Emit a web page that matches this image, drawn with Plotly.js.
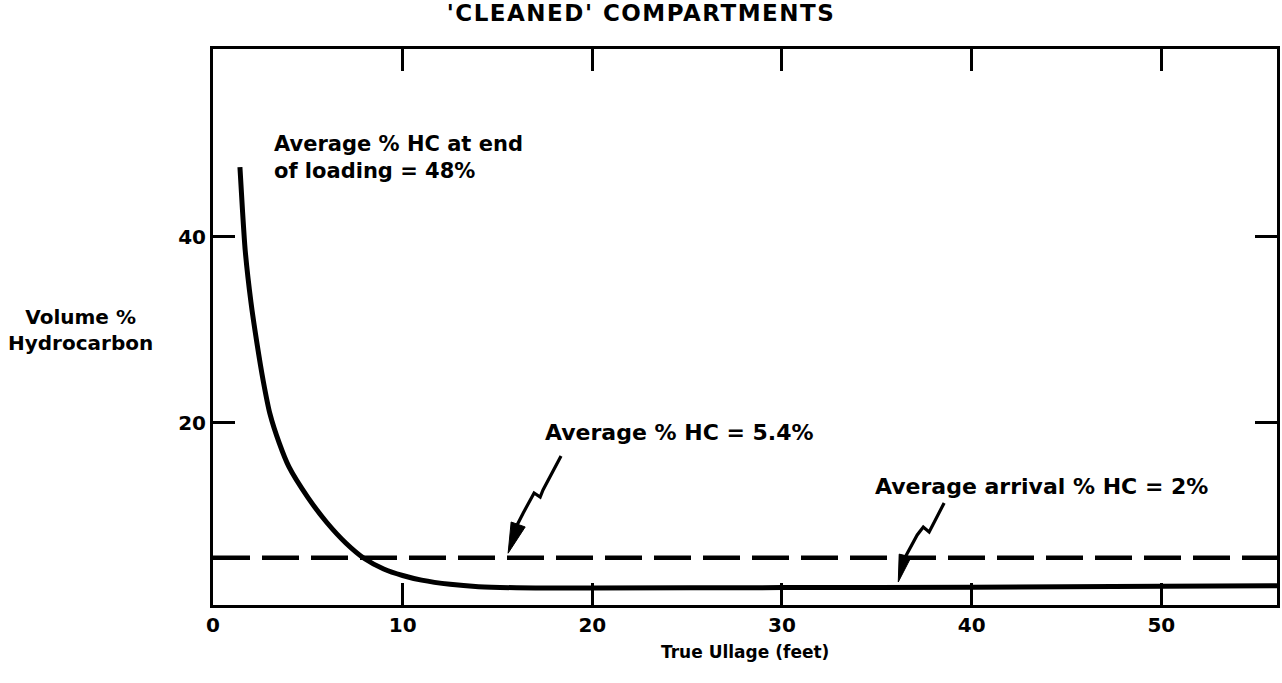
<!DOCTYPE html>
<html>
<head>
<meta charset="utf-8">
<script src="https://cdn.plot.ly/plotly-3.0.1.min.js"></script>
<style>
  html, body { margin: 0; padding: 0; background: #ffffff; }
  #chart { width: 1282px; height: 683px; }
  .gtitle { letter-spacing: 1.5px; }
</style>
</head>
<body>
<div id="chart"></div>
<script>
// ---- Data ----
const ullageFeet = [1.42, 1.55, 1.7, 2.0, 2.3, 2.65, 3.0, 3.5, 4.0, 5.0, 6.0, 7.0, 8.0, 9.0, 10.0, 11.0, 12.5, 14.0, 16.0, 18.0, 20, 30, 40, 50, 56.1];
const volumePctHC = [47.5, 43.0, 38.5, 33.0, 28.8, 24.5, 21.0, 17.8, 15.3, 12.0, 9.3, 7.1, 5.4, 4.3, 3.6, 3.1, 2.65, 2.4, 2.28, 2.25, 2.25, 2.3, 2.35, 2.45, 2.5];

const averageLineX = [0, 56.1];
const averageLineY = [5.5, 5.5];

const xTickVals = [0, 10, 20, 30, 40, 50];
const yTickVals = [20, 40];

// Decorative pointer arrows (squiggle + head)
const arrow1X = [18.35, 17.4, 17.25, 16.93, 16.35, 15.9];
const arrow1Y = [16.45, 12.8, 12.04, 12.47, 10.3, 8.5];
const arrow1HeadX = [15.56, 15.72, 16.46, 15.56];
const arrow1HeadY = [6.0, 9.35, 8.82, 6.0];

const arrow2X = [38.55, 37.76, 37.45, 37.13, 36.5];
const arrow2Y = [11.4, 8.28, 8.82, 7.96, 5.6];
const arrow2HeadX = [36.13, 36.18, 36.81, 36.13];
const arrow2HeadY = [2.9, 5.9, 5.59, 2.9];

const labelTexts = ["Average % HC at end<br>of loading = 48%", "Average % HC = 5.4%", "Average arrival % HC = 2%"];
const labelX = [3.1, 17.4, 34.8];
const labelY = [51.5, 19.0, 13.2];

const FONT = "DejaVu Sans";

const traces = [
  {
    x: averageLineX, y: averageLineY, type: "scatter", mode: "lines",
    line: { color: "#000", width: 4.5, dash: "37px,12px" }, hoverinfo: "skip"
  },
  {
    x: ullageFeet, y: volumePctHC, type: "scatter", mode: "lines",
    line: { color: "#000", width: 5, shape: "spline", smoothing: 0.6 }, hoverinfo: "skip"
  },
  {
    x: arrow1X, y: arrow1Y, type: "scatter", mode: "lines",
    line: { color: "#000", width: 3.2 }, hoverinfo: "skip"
  },
  {
    x: arrow1HeadX, y: arrow1HeadY, type: "scatter", mode: "lines", fill: "toself",
    fillcolor: "#000", line: { color: "#000", width: 1 }, hoverinfo: "skip"
  },
  {
    x: arrow2X, y: arrow2Y, type: "scatter", mode: "lines",
    line: { color: "#000", width: 3.2 }, hoverinfo: "skip"
  },
  {
    x: arrow2HeadX, y: arrow2HeadY, type: "scatter", mode: "lines", fill: "toself",
    fillcolor: "#000", line: { color: "#000", width: 1 }, hoverinfo: "skip"
  }
];

const axisCommon = {
  showline: true, linecolor: "#000", linewidth: 3, mirror: "ticks",
  ticks: "inside", ticklen: 22, tickwidth: 3, tickcolor: "#000",
  showgrid: false, zeroline: false,
  tickfont: { family: FONT, size: 20, color: "#000", weight: "bold" }
};

const annotations = labelTexts.map((t, i) => ({
  text: t, x: labelX[i], y: labelY[i], xref: "x", yref: "y",
  xanchor: "left", yanchor: i === 0 ? "top" : "middle", align: "left",
  showarrow: false,
  font: { family: FONT, size: i === 0 ? 21 : 22, color: "#000", weight: "bold" }
}));

annotations.push({
  text: "Volume %<br>Hydrocarbon", xref: "paper", yref: "paper",
  x: -0.125, y: 0.495, xanchor: "center", yanchor: "middle", align: "center",
  showarrow: false, font: { family: FONT, size: 20, color: "#000", weight: "bold" }
});
annotations.push({
  text: "True Ullage (feet)", xref: "paper", yref: "paper",
  x: 0.5, y: -0.085, xanchor: "center", yanchor: "middle",
  showarrow: false, font: { family: FONT, size: 17, color: "#000", weight: "bold" }
});

const layout = {
  width: 1282, height: 683,
  paper_bgcolor: "#fff", plot_bgcolor: "#fff",
  margin: { l: 213, r: 5, t: 49, b: 78 },
  showlegend: false,
  title: {
    text: "'CLEANED' COMPARTMENTS",
    x: 641 / 1282, xref: "container", xanchor: "center",
    y: 1 - 13 / 683, yref: "container", yanchor: "middle",
    font: { family: FONT, size: 23, color: "#000", weight: "bold" }
  },
  xaxis: Object.assign({}, axisCommon, { range: [0, 56.1], tickvals: xTickVals, ticktext: xTickVals.map(String) }),
  yaxis: Object.assign({}, axisCommon, { range: [0.43, 60.2], tickvals: yTickVals, ticktext: yTickVals.map(String) }),
  annotations: annotations
};

Plotly.newPlot("chart", traces, layout, { staticPlot: true, displayModeBar: false });
</script>
</body>
</html>
